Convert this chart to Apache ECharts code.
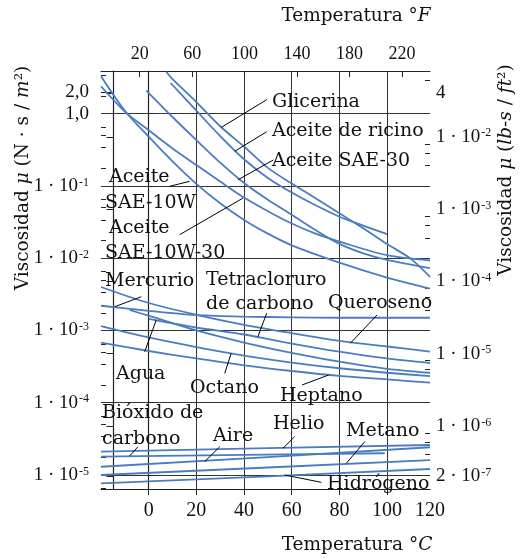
<!DOCTYPE html>
<html>
<head>
<meta charset="utf-8">
<title>Viscosidad</title>
<script src="https://cdn.jsdelivr.net/npm/echarts@6.0.0/dist/echarts.min.js"></script>
<style>
  html, body { margin: 0; padding: 0; background: #fff; }
  #chart { width: 529px; height: 558px; }
</style>
</head>
<body>
<div id="chart"></div>
<script>
// curves: [temperatura °C, viscosidad N·s/m²]
var glicerina = [[7.4, 3.8], [10, 3.0], [20, 1.45], [30, 0.67], [40, 0.35], [50, 0.178], [60, 0.108], [70, 0.0676], [80, 0.042], [90, 0.026], [100, 0.0157], [110, 0.0098], [118, 0.0055]];
var ricino = [[9.2, 2.66], [20, 1.1], [30, 0.49], [40, 0.234], [50, 0.129], [60, 0.081], [70, 0.054], [80, 0.0375], [90, 0.0283], [100, 0.0215]];
var sae30 = [[-1, 2.08], [10, 0.9], [20, 0.43], [30, 0.21], [40, 0.11], [50, 0.0645], [60, 0.04], [70, 0.0245], [80, 0.0158], [90, 0.0117], [100, 0.0095], [118, 0.0073]];
var sae10w = [[-20, 3.3], [-10, 1.1], [0, 0.48], [10, 0.219], [20, 0.107], [30, 0.0575], [40, 0.0339], [50, 0.0219], [60, 0.0151], [80, 0.0087], [100, 0.0054], [118, 0.0038]];
var sae10w30 = [[-20, 2.4], [-10, 1.07], [0, 0.59], [10, 0.33], [20, 0.195], [30, 0.115], [40, 0.069], [50, 0.0447], [60, 0.0302], [70, 0.0219], [80, 0.017], [100, 0.011], [118, 0.0093]];
var queroseno = [[-20, 4.0e-3], [0, 2.4e-3], [20, 1.65e-3], [40, 1.2e-3], [60, 9.2e-4], [80, 7.2e-4], [100, 6.0e-4], [118, 5.1e-4]];
var mercurio = [[-20, 2.2e-3], [0, 1.87e-3], [20, 1.63e-3], [40, 1.56e-3], [60, 1.52e-3], [80, 1.5e-3], [100, 1.5e-3], [118, 1.5e-3]];
var agua = [[-8, 1.92e-3], [0, 1.6e-3], [20, 1.0e-3], [40, 6.8e-4], [60, 4.9e-4], [80, 3.7e-4], [100, 2.95e-4], [118, 2.6e-4]];
var tetracloruro = [[0, 1.45e-3], [20, 1.1e-3], [40, 8.8e-4], [60, 6.6e-4], [80, 5.1e-4], [100, 4.1e-4], [118, 3.55e-4]];
var octano = [[-20, 1.15e-3], [0, 8.0e-4], [20, 5.9e-4], [40, 4.5e-4], [60, 3.6e-4], [80, 3.0e-4], [100, 2.6e-4], [118, 2.34e-4]];
var heptano = [[-20, 6.8e-4], [0, 5.2e-4], [20, 4.1e-4], [40, 3.3e-4], [60, 2.75e-4], [80, 2.35e-4], [100, 2.1e-4], [118, 1.9e-4]];
var helio = [[-20, 2.1e-5], [50, 2.35e-5], [118, 2.6e-5]];
var co2 = [[-20, 1.79e-5], [40, 1.9e-5], [99, 2.0e-5]];
var aire = [[-20, 1.3e-5], [50, 1.77e-5], [118, 2.42e-5]];
var metano = [[-20, 1.0e-5], [50, 1.27e-5], [118, 1.61e-5]];
var hidrogeno = [[-20, 7.67e-6], [50, 9.6e-6], [118, 1.21e-5]];

// axes
var tempC = [0, 20, 40, 60, 80, 100];
var tempCLabels = [0, 20, 40, 60, 80, 100, 118];
var tempF = [20, 60, 100, 140, 180, 220];
var siGrid = [1, 1e-1, 1e-2, 1e-3, 1e-4, 1e-5];
var siLabels = [2, 1, 1e-1, 1e-2, 1e-3, 1e-4, 1e-5];
var usLabels = [4e-2, 1e-2, 1e-3, 1e-4, 1e-5, 1e-6, 2e-7];
var LB = 47.88; // N·s/m² per lb·s/ft²
var Y_MIN = 6.4e-6, Y_MAX = 3.9;

// leader lines [[°C, N·s/m²], [°C, N·s/m²]]
var leaders = [
  [[30.5, 0.648], [49.6, 1.57]],
  [[36.1, 0.302], [49.5, 0.563]],
  [[37.5, 0.122], [52.3, 0.229]],
  [[8.8, 0.099], [17.2, 0.116]],
  [[13, 0.0212], [39.6, 0.068]],
  [[-14.3, 2.13e-3], [-3.1, 2.93e-3]],
  [[-1.7, 5.08e-4], [3.2, 1.4e-3]],
  [[45.8, 8.2e-4], [49.5, 1.73e-3]],
  [[84.6, 6.65e-4], [95.8, 1.64e-3]],
  [[34.6, 4.83e-4], [31.9, 2.55e-4]],
  [[75.5, 2.42e-4], [64.3, 1.76e-4]],
  [[-8, 1.83e-5], [-4.5, 2.46e-5]],
  [[23.5, 1.53e-5], [29.8, 2.46e-5]],
  [[56.3, 2.34e-5], [61.2, 3.39e-5]],
  [[82.9, 1.45e-5], [90.6, 2.89e-5]],
  [[57, 1.0e-5], [72.4, 7.92e-6]]
];

var texts = [
  ['Glicerina', 272, 102], ['Aceite de ricino', 272, 131.5], ['Aceite SAE-30', 272, 161.5],
  ['Aceite', 109, 177], ['SAE-10W', 105, 203], ['Aceite', 109, 228], ['SAE-10W-30', 105, 253],
  ['Mercurio', 105, 281], ['Tetracloruro', 206, 280], ['de carbono', 206, 304], ['Queroseno', 328, 303.5],
  ['Agua', 116, 374.5], ['Octano', 190, 388], ['Heptano', 280, 396],
  ['Bióxido de', 102, 413], ['carbono', 102, 439], ['Aire', 213, 436], ['Helio', 273, 424],
  ['Metano', 346, 431], ['Hidrógeno', 327, 484]
];

var BLUE = '#4a7cc0';
var SERIF = '"DejaVu Serif", serif';
var NUM = '"Liberation Serif", serif';

function decades(mants, lo, hi, from, to) {
  var out = [];
  for (var e = from; e <= to; e++) {
    mants.forEach(function (m) {
      var v = m * Math.pow(10, e);
      if (v > lo && v < hi) out.push(v);
    });
  }
  return out;
}
var siMinor = decades([0.65, 0.5, 0.34, 0.175], Y_MIN, Y_MAX, -5, 1);
var usMinor = decades([8, 6, 4], Y_MIN / LB, Y_MAX / LB, -8, -2).filter(function (v) {
  return Math.abs(v - 4e-2) > 1e-4;
});

function sci(v) {
  var e = Math.floor(Math.log10(v) + 1e-9);
  var m = Math.round(v / Math.pow(10, e));
  return m + ' · 10{s|' + e + '}';
}

var numLabel = {
  fontFamily: NUM, fontSize: 19, color: '#111',
  rich: { s: { fontFamily: NUM, fontSize: 12, color: '#111', verticalAlign: 'top', lineHeight: 12, padding: [0, 0, 8, 1] } }
};

var curves = [
  glicerina, ricino, sae30, sae10w, sae10w30,
  queroseno, mercurio, agua, tetracloruro, octano, heptano,
  helio, co2, aire, metano, hidrogeno
];

var series = curves.map(function (d, i) {
  return {
    type: 'line', data: d, xAxisIndex: 0, yAxisIndex: 0,
    symbol: 'none', smooth: i < 11 ? 0.3 : false, silent: true, z: 3,
    lineStyle: { color: BLUE, width: 1.8 }
  };
});
series.push({
  type: 'line', data: [], xAxisIndex: 0, yAxisIndex: 0, silent: true,
  markLine: {
    silent: true, symbol: ['none', 'none'], animation: false,
    label: { show: false },
    lineStyle: { color: '#000', width: 1, type: 'solid' },
    emphasis: { disabled: true },
    data: leaders.map(function (l) { return [{ coord: l[0] }, { coord: l[1] }]; })
  }
});

var axisLine = { show: true, lineStyle: { color: '#222', width: 1.2 } };
var noLabel = { show: false };

var chart = echarts.init(document.getElementById('chart'), null, { renderer: 'canvas' });
chart.setOption({
  animation: false,
  backgroundColor: '#fff',
  grid: { left: 101, right: 99, top: 71, bottom: 69, containLabel: false, outerBoundsMode: 'none' },
  xAxis: [{
    type: 'value', min: -20, max: 118, position: 'bottom',
    axisLine: axisLine,
    axisTick: { show: true, customValues: tempC, length: 6, lineStyle: { color: '#222' } },
    axisLabel: {
      customValues: tempCLabels, fontFamily: NUM, fontSize: 20, color: '#111', margin: 12,
      formatter: function (v) { return v > 110 ? '120' : String(v); }
    },
    splitLine: { show: true, lineStyle: { color: '#333', width: 1 } }
  }, {
    type: 'value', min: -9.5, max: 241.4, position: 'top',
    axisLine: axisLine,
    axisTick: { show: true, inside: true, customValues: tempF, length: 6, lineStyle: { color: '#222' } },
    axisLabel: { customValues: tempF, fontFamily: NUM, fontSize: 18, color: '#111', margin: 8 },
    splitLine: { show: false }
  }],
  yAxis: [{
    type: 'log', logBase: 10, min: Y_MIN, max: Y_MAX, position: 'left',
    axisLine: axisLine,
    axisTick: { show: true, inside: true, customValues: siGrid, length: 6, lineStyle: { color: '#222' } },
    axisLabel: Object.assign({
      customValues: siLabels, margin: 12,
      formatter: function (v) { return v > 1.5 ? '2,0' : (v > 0.5 ? '1,0' : sci(v)); }
    }, numLabel),
    splitLine: { show: true, lineStyle: { color: '#333', width: 1 } }
  }, {
    type: 'log', logBase: 10, min: Y_MIN / LB, max: Y_MAX / LB, position: 'right',
    axisLine: axisLine,
    axisTick: { show: true, inside: true, customValues: usLabels, length: 7, lineStyle: { color: '#222' } },
    axisLabel: Object.assign({
      customValues: usLabels, margin: 6,
      formatter: function (v) { return Math.abs(v - 4e-2) < 1e-4 ? '4' : sci(v); }
    }, numLabel),
    splitLine: { show: false }
  }, {
    type: 'log', logBase: 10, min: Y_MIN, max: Y_MAX, position: 'left',
    axisLine: { show: false }, axisLabel: noLabel, splitLine: { show: false },
    axisTick: { show: true, inside: true, customValues: siMinor, length: 5, lineStyle: { color: '#222' } }
  }, {
    type: 'log', logBase: 10, min: Y_MIN, max: Y_MAX, position: 'left',
    axisLine: { show: false }, axisLabel: noLabel, splitLine: { show: false },
    axisTick: { show: true, inside: true, customValues: [2], length: 10, lineStyle: { color: '#222' } }
  }, {
    type: 'log', logBase: 10, min: Y_MIN / LB, max: Y_MAX / LB, position: 'right',
    axisLine: { show: false }, axisLabel: noLabel, splitLine: { show: false },
    axisTick: { show: true, inside: true, customValues: usMinor, length: 5, lineStyle: { color: '#222' } }
  }],
  series: series,
  graphic: texts.map(function (t) {
    return {
      type: 'text', x: t[1], y: t[2], z: 10, silent: true,
      style: { text: t[0], font: '19px ' + SERIF, fill: '#111', verticalAlign: 'middle', align: 'left' }
    };
  }).concat([
    {
      type: 'text', x: 356, y: 16, silent: true,
      style: { text: 'Temperatura °{i|F}', font: '18.5px ' + SERIF, fill: '#111', align: 'center', verticalAlign: 'middle',
        rich: { i: { fontStyle: 'italic', fontFamily: SERIF, fontSize: 18.5 } } }
    },
    {
      type: 'text', x: 357, y: 545, silent: true,
      style: { text: 'Temperatura °{i|C}', font: '18.5px ' + SERIF, fill: '#111', align: 'center', verticalAlign: 'middle',
        rich: { i: { fontStyle: 'italic', fontFamily: SERIF, fontSize: 18.5 } } }
    },
    {
      type: 'text', x: 23, y: 178, rotation: Math.PI / 2, silent: true,
      style: { text: 'Viscosidad {i|μ} (N · s / {i|m}²)', font: '18.5px ' + SERIF, fill: '#111', align: 'center', verticalAlign: 'middle',
        rich: { i: { fontStyle: 'italic', fontFamily: SERIF, fontSize: 18.5 } } }
    },
    {
      type: 'text', x: 506, y: 170, rotation: Math.PI / 2, silent: true,
      style: { text: 'Viscosidad {i|μ} ({i|lb-s} / {i|ft}²)', font: '18.5px ' + SERIF, fill: '#111', align: 'center', verticalAlign: 'middle',
        rich: { i: { fontStyle: 'italic', fontFamily: SERIF, fontSize: 18.5 } } }
    }
  ])
});
</script>
</body>
</html>
